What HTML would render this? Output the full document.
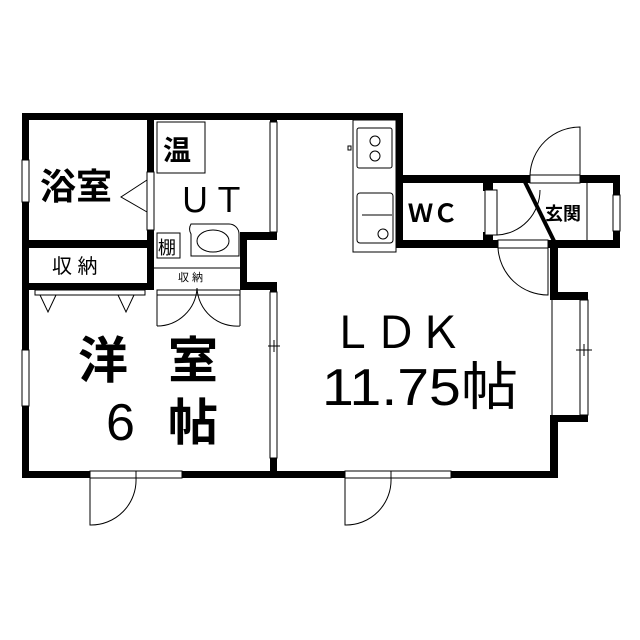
<!DOCTYPE html>
<html><head><meta charset="utf-8"><style>
html,body{margin:0;padding:0;background:#fff;}
svg{display:block;}
text{font-family:"Liberation Sans","Noto Sans CJK JP",sans-serif;fill:#000;}
.b{font-weight:bold;}
</style></head><body>
<svg width="640" height="640" viewBox="0 0 640 640" xmlns="http://www.w3.org/2000/svg">
<g fill="#000">
<rect x="22" y="113" width="381" height="7"/>
<rect x="22" y="113" width="7" height="365"/>
<rect x="22" y="471" width="536" height="7"/>
<rect x="396" y="113" width="7" height="135"/>
<rect x="396" y="175" width="224" height="8"/>
<rect x="613" y="175" width="7" height="73"/>
<rect x="396" y="240" width="224" height="8"/>
<rect x="550" y="240" width="8" height="60"/>
<rect x="550" y="292" width="38" height="8"/>
<rect x="550" y="415" width="38" height="7"/>
<rect x="550" y="415" width="8" height="63"/>
<rect x="147" y="113" width="7" height="177"/>
<rect x="22" y="240" width="132" height="8"/>
<rect x="22" y="283" width="132" height="7"/>
<rect x="240" y="232" width="37" height="8"/>
<rect x="240" y="232" width="7" height="58"/>
<rect x="240" y="282" width="37" height="8"/>
<rect x="270" y="282" width="7" height="196"/>
<rect x="270" y="113" width="7" height="10"/>
<rect x="483" y="183" width="10" height="8"/>
<rect x="483" y="232" width="10" height="8"/>
</g>
<g fill="#fff" stroke="#000" stroke-width="1">
<rect x="22" y="160" width="7" height="42"/>
<rect x="22" y="350" width="7" height="56"/>
<rect x="270" y="122" width="7" height="110"/>
<rect x="270" y="292" width="7" height="166"/>
<rect x="613" y="195" width="7" height="36"/>
<rect x="580" y="300" width="8" height="115"/>
<rect x="90" y="471" width="46" height="7"/>
<rect x="136" y="471" width="46" height="7"/>
<rect x="345" y="471" width="46" height="7"/>
<rect x="391" y="471" width="60" height="7"/>
<rect x="147" y="172" width="7" height="58"/>
<rect x="530" y="175" width="50" height="8"/>
<rect x="498" y="240" width="50" height="8"/>
<rect x="485" y="190" width="12" height="45"/>
<rect x="157" y="122" width="48" height="51"/>
<rect x="157" y="233" width="23" height="25"/>
<rect x="353" y="120" width="43" height="132"/>
<rect x="357" y="128" width="35" height="40" rx="2"/>
<rect x="357" y="193" width="36" height="50" rx="3"/>
<rect x="35" y="290" width="110" height="5"/>
<rect x="157" y="290" width="83" height="5"/>
</g>
<g fill="none" stroke="#000" stroke-width="1">
<line x1="552" y1="300" x2="552" y2="415"/>
<line x1="587" y1="183" x2="587" y2="240"/>
<line x1="153" y1="268" x2="240" y2="268"/>
<path d="M147 180 L121 197 L147 212"/>
<path d="M40 295 L48 312 L56 295 M118 295 L126 312 L134 295"/>
<path d="M157 295 V326 M240 295 V326 M157 326 A40 40 0 0 0 197 288 M240 326 A40 40 0 0 1 197 288"/>
<path d="M90 478 V525 A45 45 0 0 0 136 478"/>
<path d="M345 478 V525 A45 45 0 0 0 391 478"/>
<path d="M580 175 V127 A50 50 0 0 0 530 175"/>
<path d="M548 248 V295 A50 50 0 0 1 498 248"/>
<path d="M497 235 A45 45 0 0 0 540 190"/>
<path d="M191 224 h38 a10 10 0 0 1 10 10 v22 h-48 v-22 a10 10 0 0 1 0 -10z"/>
<ellipse cx="213" cy="241" rx="16" ry="11"/>
<circle cx="375" cy="141" r="5"/><circle cx="375" cy="156" r="5"/>
<circle cx="383" cy="234" r="5"/>
<line x1="362" y1="215" x2="392" y2="215"/>
<rect x="348" y="146" width="3" height="4"/>
<line x1="268" y1="346" x2="280" y2="346"/><line x1="274" y1="340" x2="274" y2="352"/>
<line x1="576" y1="350" x2="592" y2="350"/><line x1="584" y1="344" x2="584" y2="356"/>
</g>
<line x1="523" y1="178" x2="555" y2="243" stroke="#000" stroke-width="4"/>
<text x="40" y="199" font-size="36" class="b">浴室</text>
<text x="178" y="212" font-size="34">ＵＴ</text>
<text x="163" y="160" font-size="28" class="b">温</text>
<text x="158" y="254" font-size="18">棚</text>
<text x="52" y="273" font-size="20">収 納</text>
<text x="178" y="281" font-size="11">収 納</text>
<text x="408" y="222" font-size="25" class="b">ＷＣ</text>
<text x="545" y="220" font-size="18" class="b">玄関</text>
<text x="78" y="378" font-size="50" class="b">洋</text>
<text x="168" y="378" font-size="50" class="b">室</text>
<text x="106" y="440" font-size="52">6</text>
<text x="168" y="440" font-size="50" class="b">帖</text>
<text x="330" y="348" font-size="44">ＬＤＫ</text>
<text x="322" y="405" font-size="52" textLength="196" lengthAdjust="spacingAndGlyphs">11.75帖</text>
</svg>
</body></html>
